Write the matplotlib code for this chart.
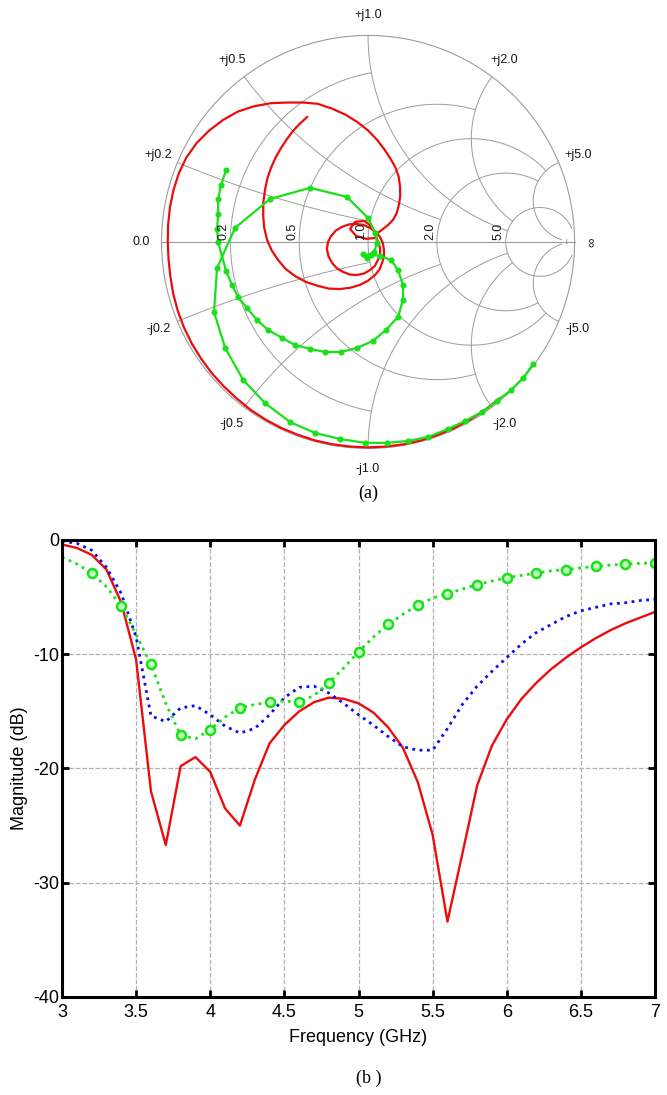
import numpy as np
import matplotlib
matplotlib.use("Agg")
import matplotlib.pyplot as plt

plt.rcParams['font.family'] = ['Liberation Sans', 'DejaVu Sans']
plt.rcParams['axes.unicode_minus'] = False

# --- (a) Smith chart data : reflection coefficient (re, im) ---
red_re = [0.636, 0.568, 0.496, 0.420, 0.340, 0.258, 0.173, 0.087, 0.000, -0.087,
          -0.173, -0.258, -0.340, -0.420, -0.497, -0.569, -0.636, -0.699, -0.757, -0.808,
          -0.853, -0.891, -0.921, -0.943, -0.957, -0.966, -0.970, -0.968, -0.959, -0.942,
          -0.916, -0.879, -0.830, -0.770, -0.703, -0.631, -0.552, -0.470, -0.390, -0.315,
          -0.244, -0.173, -0.109, -0.051, 0.000, 0.043, 0.079, 0.108, 0.132, 0.148,
          0.155, 0.156, 0.149, 0.138, 0.122, 0.097, 0.048,
          0.034, -0.010, -0.058, -0.087, -0.063, -0.019, 0.015, 0.034,
          0.058, 0.058, 0.048, 0.033, 0.010, -0.020, -0.053, -0.088, -0.121, -0.151,
          -0.174, -0.192, -0.199, -0.194, -0.179, -0.155, -0.126, -0.092, -0.058, -0.023,
          0.010, 0.037, 0.058, 0.072, 0.077, 0.077, 0.068, 0.055, 0.034,
          -0.001, -0.039, -0.086, -0.136, -0.190, -0.242, -0.300, -0.354, -0.400, -0.436,
          -0.467, -0.489, -0.503, -0.508, -0.507, -0.499, -0.488, -0.470, -0.448, -0.421,
          -0.393, -0.363, -0.330, -0.295]
red_im = [-0.758, -0.812, -0.859, -0.900, -0.934, -0.961, -0.980, -0.991, -0.995, -0.991,
          -0.980, -0.961, -0.934, -0.901, -0.860, -0.813, -0.758, -0.699, -0.635, -0.566,
          -0.493, -0.415, -0.335, -0.253, -0.169, -0.085, 0.000, 0.085, 0.169, 0.252,
          0.333, 0.410, 0.479, 0.539, 0.590, 0.631, 0.657, 0.672, 0.675, 0.675,
          0.669, 0.645, 0.616, 0.580, 0.540, 0.495, 0.448, 0.404, 0.362, 0.317,
          0.268, 0.223, 0.178, 0.138, 0.108, 0.082, 0.044,
          0.019, 0.015, 0.029, 0.063, 0.097, 0.102, 0.077, 0.039,
          -0.029, -0.058, -0.087, -0.116, -0.136, -0.153, -0.160, -0.158, -0.145, -0.128,
          -0.102, -0.069, -0.034, 0.000, 0.029, 0.056, 0.073, 0.085, 0.087, 0.083,
          0.068, 0.050, 0.024, -0.007, -0.039, -0.071, -0.102, -0.134, -0.160,
          -0.188, -0.208, -0.222, -0.228, -0.226, -0.213, -0.194, -0.165, -0.130, -0.087,
          -0.040, 0.010, 0.070, 0.131, 0.192, 0.252, 0.306, 0.358, 0.408, 0.455,
          0.498, 0.538, 0.573, 0.605]

green_re = [0.799, 0.751, 0.692, 0.625, 0.552, 0.470, 0.387, 0.291, 0.194, 0.092,
            -0.015, -0.136, -0.257, -0.378, -0.499, -0.605, -0.692, -0.746, -0.731, -0.644,
            -0.475, -0.281, -0.102, 0.000, 0.034, 0.044, 0.029, -0.010, -0.024, -0.005,
            0.015, 0.058, 0.111, 0.145, 0.169, 0.169, 0.145, 0.087, 0.024, -0.053,
            -0.131, -0.208, -0.281, -0.354, -0.416, -0.484, -0.538, -0.586, -0.630, -0.659,
            -0.688, -0.726, -0.731, -0.726, -0.726, -0.712, -0.687]
green_im = [-0.591, -0.659, -0.717, -0.770, -0.823, -0.867, -0.906, -0.944, -0.964, -0.973,
            -0.973, -0.954, -0.925, -0.872, -0.780, -0.668, -0.513, -0.339, -0.126, 0.068,
            0.208, 0.262, 0.218, 0.116, 0.044, -0.005, -0.048, -0.068, -0.058, -0.077,
            -0.063, -0.068, -0.087, -0.136, -0.208, -0.281, -0.363, -0.426, -0.479, -0.513,
            -0.533, -0.533, -0.518, -0.499, -0.465, -0.426, -0.378, -0.320, -0.266, -0.208,
            -0.140, 0.000, 0.063, 0.136, 0.208, 0.276, 0.349]

# grid values : (value, end value) like a MATLAB smith chart
grid_vals = [0.2, 0.5, 1.0, 2.0, 5.0]
grid_ends = [1.0, 2.0, 5.0, 5.0, 30.0]
x_labels = ['0.2', '0.5', '1.0', '2.0', '5.0']

# --- (b) |S11| data ---
freq = [3.0, 3.1, 3.2, 3.3, 3.4, 3.5, 3.6, 3.7, 3.8, 3.9, 4.0, 4.1, 4.2, 4.3, 4.4, 4.5,
        4.6, 4.7, 4.8, 4.9, 5.0, 5.1, 5.2, 5.3, 5.4, 5.5, 5.6, 5.7, 5.8, 5.9, 6.0, 6.1,
        6.2, 6.3, 6.4, 6.5, 6.6, 6.7, 6.8, 6.9, 7.0]
red_db = [-0.4, -0.7, -1.3, -2.6, -5.5, -10.5, -22.0, -26.7, -19.8, -19.0, -20.3, -23.5,
          -25.0, -21.0, -17.8, -16.2, -15.0, -14.2, -13.8, -13.9, -14.3, -15.1, -16.4, -18.2,
          -21.2, -25.8, -33.4, -27.5, -21.5, -18.0, -15.7, -13.9, -12.5, -11.3, -10.3, -9.4,
          -8.6, -7.9, -7.3, -6.8, -6.3]
blue_db = [-0.1, -0.3, -0.9, -2.4, -4.7, -8.5, -15.4, -15.9, -14.7, -14.5, -15.3, -16.3,
           -16.9, -16.5, -15.3, -13.8, -12.9, -12.8, -13.4, -14.3, -15.3, -16.2, -17.2, -18.1,
           -18.4, -18.4, -16.5, -14.4, -12.8, -11.5, -10.3, -9.1, -8.1, -7.4, -6.7, -6.2,
           -5.9, -5.6, -5.5, -5.3, -5.2]
green_db = [-1.5, -2.1, -2.9, -4.1, -5.8, -8.3, -10.9, -14.3, -17.1, -17.4, -16.6, -15.5,
            -14.7, -14.4, -14.2, -14.1, -14.2, -13.6, -12.5, -11.2, -9.8, -8.5, -7.4, -6.5,
            -5.7, -5.1, -4.7, -4.3, -3.9, -3.6, -3.3, -3.1, -2.9, -2.7, -2.6, -2.45,
            -2.3, -2.2, -2.1, -2.05, -2.0]

RED = (0.92, 0.05, 0.05)
GREEN = (0.1, 0.88, 0.1)
BLUE = (0.05, 0.05, 0.9)
GRID = '#9c9c9c'
LAB = '#151515'

fig = plt.figure(figsize=(6.67, 10.95), dpi=100)

# ---------------- Smith chart ----------------
ax1 = fig.add_axes([0.1493, 0.5339, 0.805, 0.4658])
ax1.set_xlim(-1.3, 1.3)
ax1.set_ylim(-1.3, 1.17)
ax1.axis('off')


def z2g(z):
    return (z - 1) / (z + 1)


t = np.linspace(0, 2 * np.pi, 600)
ax1.plot(np.cos(t), np.sin(t), color=GRID, lw=0.8)
ax1.plot([-1, 1], [0, 0], color=GRID, lw=0.8)
for v, e in zip(grid_vals, grid_ends):
    # constant resistance circle
    xx = np.sinh(np.linspace(-np.arcsinh(e), np.arcsinh(e), 600))
    g = z2g(v + 1j * xx)
    ax1.plot(g.real, g.imag, color=GRID, lw=0.7)
    # constant reactance arcs
    rr = np.sinh(np.linspace(0, np.arcsinh(e), 600))
    for s in (1, -1):
        g = z2g(rr + 1j * s * v)
        ax1.plot(g.real, g.imag, color=GRID, lw=0.7)
g = z2g(50 + 1j * np.tan(np.linspace(-1.5, 1.5, 200)))
ax1.plot(g.real, g.imag, color=GRID, lw=0.7)

for v, lab in zip(grid_vals, x_labels):
    for s, sign in ((1, '+'), (-1, '-')):
        g = z2g(1j * s * v) * 1.1
        ax1.text(g.real, g.imag, sign + 'j' + lab, fontsize=9, color=LAB,
                 ha='center', va='center')
    gx = (v - 1) / (v + 1)
    ax1.text(gx - 0.005, 0.01, lab, fontsize=9, color=LAB, rotation=90,
             ha='right', va='bottom')
ax1.text(-1.1, 0, '0.0', fontsize=9, color=LAB, ha='center', va='center')
ax1.text(1.08, 0, '∞', fontsize=9.5, color=LAB, ha='center', va='center', rotation=90)

ax1.plot(red_re, red_im, color=RED, lw=1.6, solid_joinstyle='round')
ax1.plot(green_re, green_im, color=GREEN, lw=1.6, marker='o', ms=3.4)

fig.text(0.5525, 0.5498, '(a)', fontsize=13, family='Liberation Serif',
         ha='center', va='center')

# ---------------- S11 magnitude ----------------
ax2 = fig.add_axes([0.093, 0.0895, 0.889, 0.4174])
ax2.plot(freq, red_db, color=RED, lw=1.7)
ax2.plot(freq, blue_db, color=BLUE, lw=2.0, ls=':')
ax2.plot(freq, green_db, color=GREEN, lw=2.0, ls=':', marker='o', markevery=(2, 2),
         ms=6.5, mfc=(0.75, 1.0, 0.75), mec=GREEN, mew=1.8)
ax2.set_xlim(3, 7)
ax2.set_ylim(-40, 0)
ax2.set_xticks([3, 3.5, 4, 4.5, 5, 5.5, 6, 6.5, 7])
ax2.set_xticklabels(['3', '3.5', '4', '4.5', '5', '5.5', '6', '6.5', '7'])
ax2.set_yticks([-40, -30, -20, -10, 0])
ax2.set_yticklabels(['-40', '-30', '-20', '-10', '0'])
ax2.grid(True, ls='--', color='#b0b0b0', lw=0.9)
for sp in ax2.spines.values():
    sp.set_linewidth(2.2)
ax2.tick_params(direction='in', length=5, width=2, top=True, right=True,
                labelsize=13)
ax2.tick_params(axis='y', pad=2)
ax2.tick_params(axis='x', pad=5)
ax2.set_xlabel('Frequency (GHz)', fontsize=13, labelpad=6)
ax2.set_ylabel('Magnitude (dB)', fontsize=13, labelpad=4)

fig.text(0.5525, 0.0155, '(b )', fontsize=13, family='Liberation Serif',
         ha='center', va='center')

fig.savefig('out.png', dpi=100)
